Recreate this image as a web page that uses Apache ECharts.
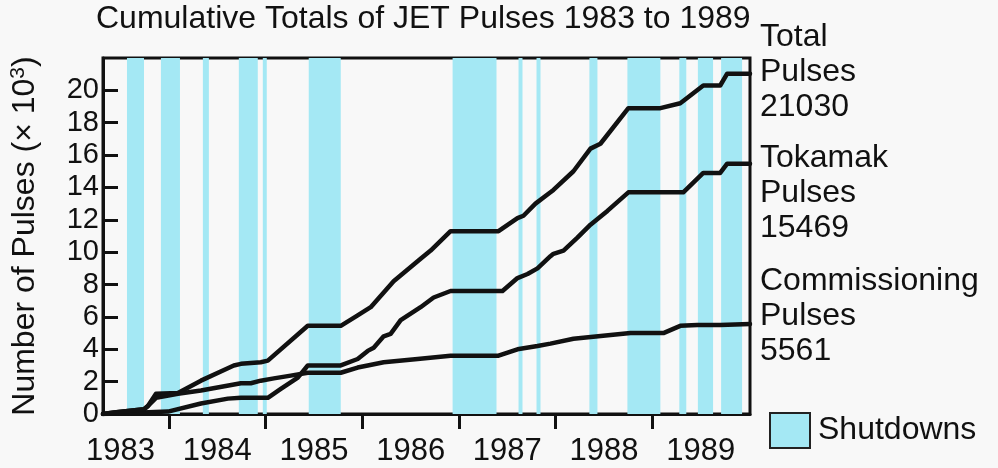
<!DOCTYPE html>
<html>
<head>
<meta charset="utf-8">
<script src="https://cdn.jsdelivr.net/npm/echarts@6/dist/echarts.min.js"></script>
<style>
  html, body { margin: 0; padding: 0; background: #f8f8f8; }
  #chart { width: 998px; height: 468px; }
</style>
</head>
<body>
<div id="chart"></div>
<script>
// ---- Data (values in thousands of pulses, x in decimal years) ----
const titleText = 'Cumulative Totals of JET Pulses 1983 to 1989';
const yearTicks = [1984, 1985, 1986, 1987, 1988, 1989];
const yearLabelPos = [1983.5, 1984.5, 1985.5, 1986.5, 1987.5, 1988.5, 1989.5];
const yTicks = [0, 2, 4, 6, 8, 10, 12, 14, 16, 18, 20];

const totalT = [1983.318, 1983.432, 1983.742, 1983.783, 1983.866, 1984.093, 1984.331, 1984.671, 1984.744, 1984.950, 1985.023, 1985.436, 1985.777, 1985.952, 1986.087, 1986.324, 1986.603, 1986.707, 1986.913, 1987.409, 1987.605, 1987.667, 1987.791, 1987.946, 1987.977, 1988.184, 1988.360, 1988.463, 1988.752, 1989.083, 1989.289, 1989.527, 1989.702, 1989.774, 1990.010];
const totalV = [0, 0.1, 0.3, 0.5, 1.25, 1.3, 2.06, 3.0, 3.1, 3.2, 3.3, 5.45, 5.45, 6.1, 6.6, 8.2, 9.6, 10.1, 11.3, 11.3, 12.1, 12.25, 13.0, 13.7, 13.85, 15.0, 16.4, 16.7, 18.9, 18.9, 19.2, 20.3, 20.3, 21.03, 21.03];

const tokT = [1983.318, 1983.990, 1984.331, 1984.610, 1984.744, 1985.023, 1985.157, 1985.333, 1985.436, 1985.777, 1985.952, 1986.056, 1986.118, 1986.221, 1986.293, 1986.397, 1986.603, 1986.738, 1986.913, 1987.450, 1987.605, 1987.709, 1987.812, 1987.946, 1987.977, 1988.081, 1988.225, 1988.360, 1988.535, 1988.752, 1989.320, 1989.527, 1989.702, 1989.774, 1990.010];
const tokV = [0, 0.15, 0.65, 0.95, 1.0, 1.0, 1.55, 2.25, 3.0, 3.0, 3.4, 3.9, 4.1, 4.8, 4.95, 5.8, 6.6, 7.2, 7.6, 7.6, 8.4, 8.65, 9.0, 9.75, 9.9, 10.1, 10.9, 11.7, 12.55, 13.7, 13.7, 14.9, 14.9, 15.469, 15.469];

const commT = [1983.318, 1983.432, 1983.742, 1983.783, 1983.866, 1984.093, 1984.331, 1984.744, 1984.847, 1984.950, 1985.085, 1985.260, 1985.436, 1985.777, 1985.952, 1986.056, 1986.221, 1986.572, 1986.913, 1987.409, 1987.605, 1987.812, 1987.946, 1988.184, 1988.773, 1989.114, 1989.289, 1989.465, 1989.702, 1990.010];
const commV = [0, 0.1, 0.3, 0.5, 1.0, 1.25, 1.45, 1.9, 1.9, 2.06, 2.2, 2.37, 2.55, 2.55, 2.87, 3.0, 3.2, 3.4, 3.6, 3.6, 4.0, 4.2, 4.35, 4.65, 5.0, 5.0, 5.45, 5.5, 5.5, 5.561];

// Shutdown periods [start, end] in decimal years
const shutdowns = [
  [1983.566, 1983.742], [1983.917, 1984.114], [1984.351, 1984.413],
  [1984.723, 1984.919], [1984.971, 1985.012], [1985.446, 1985.777],
  [1986.934, 1987.388], [1987.616, 1987.657], [1987.802, 1987.843],
  [1988.349, 1988.432], [1988.742, 1989.083], [1989.279, 1989.351],
  [1989.471, 1989.628], [1989.711, 1989.928]
];

const seriesNames = ['Total', 'Tokamak', 'Commissioning'];
const endLabels = ['Total\nPulses\n21030', 'Tokamak\nPulses\n15469', 'Commissioning\nPulses\n5561'];
const legendLabel = 'Shutdowns';

// ---- Build ----
const FONT = '"Liberation Sans", Arial, Helvetica, sans-serif';
const BAND = '#a4e8f4';
const INK = '#111111';
function zip(t, v) { return t.map((x, i) => [x, v[i]]); }

const chart = echarts.init(document.getElementById('chart'), null, { renderer: 'canvas' });

const lineSeries = [zip(totalT, totalV), zip(tokT, tokV), zip(commT, commV)].map((d, i) => ({
  name: seriesNames[i],
  type: 'line',
  data: d,
  showSymbol: false,
  symbol: 'none',
  z: 5,
  lineStyle: { color: INK, width: 4.5, join: 'round', cap: 'round' },
  itemStyle: { color: INK }
}));

const option = {
  backgroundColor: '#f8f8f8',
  animation: false,
  textStyle: { fontFamily: FONT },
  title: {
    text: titleText,
    left: 96, top: 3, padding: 0,
    textStyle: { fontFamily: FONT, fontSize: 32, fontWeight: 'normal', color: INK }
  },
  legend: {
    data: [{ name: legendLabel, icon: 'rect' }],
    left: 764, top: 407,
    itemWidth: 40, itemHeight: 35,
    itemStyle: { color: BAND, borderColor: '#222', borderWidth: 2 },
    textStyle: { fontFamily: FONT, fontSize: 32, color: INK, padding: [0, 0, 0, 3] },
    selectedMode: false
  },
  grid: {
    left: 102, right: 248, top: 58, bottom: 54,
    show: true, borderColor: INK, borderWidth: 3, backgroundColor: 'transparent'
  },
  xAxis: {
    type: 'value',
    min: 1983.318, max: 1990.01,
    axisLine: { show: true, lineStyle: { color: INK, width: 3 } },
    axisTick: { show: true, customValues: yearTicks, length: 15, lineStyle: { color: INK, width: 3 } },
    axisLabel: {
      customValues: yearLabelPos,
      formatter: v => String(Math.floor(v)),
      fontSize: 31, color: INK, margin: 22, fontFamily: FONT
    },
    splitLine: { show: false }
  },
  yAxis: {
    type: 'value',
    min: 0, max: 22,
    name: 'Number of Pulses (× 10{sup|3})',
    nameLocation: 'middle',
    nameRotate: 90,
    nameGap: 61,
    nameTextStyle: {
      fontFamily: FONT, fontSize: 32, color: INK,
      rich: { sup: { fontFamily: FONT, fontSize: 21, color: INK, verticalAlign: 'top', padding: [0, 0, 13, 0] } }
    },
    axisLine: { show: true, lineStyle: { color: INK, width: 3 } },
    axisTick: { show: true, inside: true, customValues: yTicks, length: 15, lineStyle: { color: INK, width: 3 } },
    axisLabel: {
      customValues: yTicks,
      fontSize: 29, color: INK, margin: 4, fontFamily: FONT
    },
    splitLine: { show: false }
  },
  series: [
    {
      name: legendLabel,
      type: 'line',
      data: [],
      itemStyle: { color: BAND },
      z: 1,
      markArea: {
        silent: true,
        itemStyle: { color: BAND, opacity: 1 },
        data: shutdowns.map(s => [{ xAxis: s[0] }, { xAxis: s[1] }])
      }
    },
    ...lineSeries
  ],
  graphic: endLabels.map((txt, i) => ({
    type: 'text',
    left: 760,
    top: [20, 141, 264][i],
    style: {
      text: txt,
      font: '32px ' + FONT,
      lineHeight: 35,
      fill: INK
    }
  }))
};

chart.setOption(option);
</script>
</body>
</html>
